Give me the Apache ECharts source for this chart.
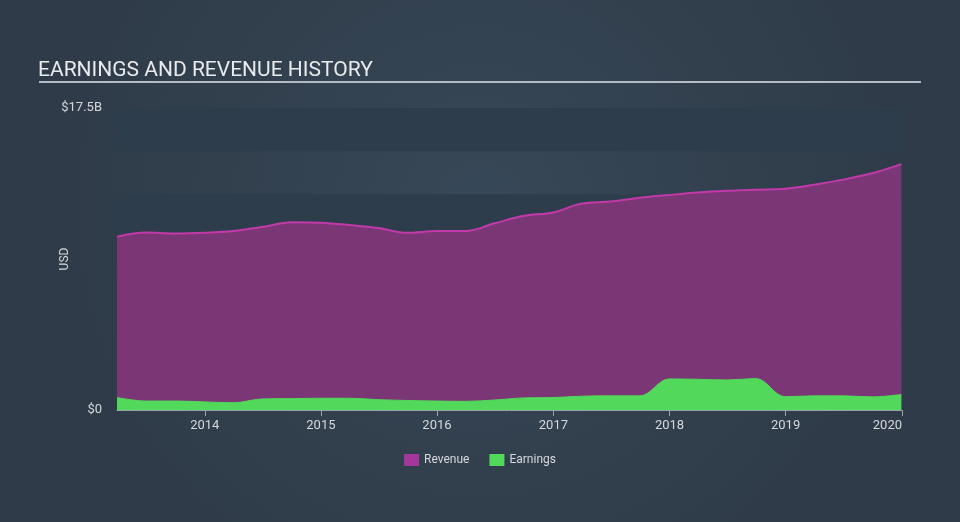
<!DOCTYPE html>
<html>
<head>
<meta charset="utf-8">
<script src="https://cdn.jsdelivr.net/npm/echarts@6/dist/echarts.min.js"></script>
<style>html,body{margin:0;padding:0;}#c{width:960px;height:522px;}</style>
</head>
<body>
<div id="c"></div>
<script>
const dates = ['2013-03-31','2013-06-30','2013-09-30','2013-12-31','2014-03-31','2014-06-30','2014-09-30','2014-12-31',
  '2015-03-31','2015-06-30','2015-09-30','2015-12-31','2016-03-31','2016-06-30','2016-09-30','2016-12-31',
  '2017-03-31','2017-06-30','2017-09-30','2017-12-31','2018-03-31','2018-06-30','2018-09-30','2018-12-31',
  '2019-03-31','2019-06-30','2019-09-30','2019-12-31'];
const revenue = [10.04,10.28,10.23,10.27,10.37,10.6,10.88,10.85,10.72,10.55,10.27,10.37,10.37,10.82,11.25,11.45,
  11.96,12.08,12.3,12.46,12.6,12.7,12.77,12.82,13.05,13.35,13.72,14.25];
const earnings = [0.72,0.52,0.52,0.47,0.42,0.64,0.66,0.68,0.68,0.6,0.55,0.52,0.5,0.58,0.7,0.72,
  0.8,0.82,0.82,1.8,1.78,1.74,1.82,0.77,0.82,0.82,0.76,0.9];
const yTickLabels = {0: '$0', 17.5: '$17.5B'};

const chart = echarts.init(document.getElementById('c'));
const pair = arr => dates.map((d, i) => [d, arr[i]]);
chart.setOption({
  backgroundColor: {type: 'radial', x: 0.5, y: 0.4, r: 0.8,
    colorStops: [{offset: 0, color: '#374858'}, {offset: 1, color: '#2f3b48'}]},
  animation: false,
  textStyle: {fontFamily: 'Roboto'},
  title: {text: 'EARNINGS AND REVENUE HISTORY', left: 33, top: 55,
    textStyle: {color: '#e8eaec', fontSize: 21, fontWeight: 'normal', fontFamily: 'Roboto'}},
  graphic: [{type: 'line', shape: {x1: 39, y1: 82, x2: 921, y2: 82},
    style: {stroke: '#b5bbc2', lineWidth: 2}}],
  legend: {top: 449, left: 'center', itemWidth: 15, itemHeight: 12, itemGap: 20, icon: 'rect',
    textStyle: {color: '#d5d8dc', fontSize: 12},
    data: ['Revenue', 'Earnings']},
  grid: {left: 117, right: 58, top: 108, bottom: 112},
  xAxis: {type: 'time', min: '2013-03-31', max: '2020-01-02',
    minInterval: 365 * 24 * 3600 * 1000, maxInterval: 366 * 24 * 3600 * 1000,
    axisLine: {lineStyle: {color: '#9aa3ac', width: 1}},
    axisTick: {show: true, length: 6, lineStyle: {color: '#9aa3ac'}},
    splitLine: {show: false},
    axisLabel: {color: '#d5d8dc', fontSize: 13, margin: 9, formatter: '{yyyy}', alignMaxLabel: 'right',
      showMinLabel: false, showMaxLabel: true}},
  yAxis: {type: 'value', min: 0, max: 17.5, interval: 2.5,
    name: 'USD', nameLocation: 'middle', nameGap: 46, nameRotate: 90, nameMoveOverlap: false,
    nameTextStyle: {color: '#d5d8dc', fontSize: 12},
    axisLine: {show: false}, axisTick: {show: false}, splitLine: {show: false},
    splitArea: {show: true, areaStyle: {color: ['#2e3d4c', 'rgba(0,0,0,0)']}},
    axisLabel: {color: '#d5d8dc', fontSize: 13, margin: 15,
      formatter: v => yTickLabels[v] !== undefined ? yTickLabels[v] : ''}},
  series: [
    {name: 'Revenue', type: 'line', data: pair(revenue), smooth: 0.35, showSymbol: false,
      itemStyle: {color: '#a3379b'},
      lineStyle: {color: '#c23aaa', width: 2},
      areaStyle: {color: '#7b3775', opacity: 1}},
    {name: 'Earnings', type: 'line', data: pair(earnings), smooth: 0.35, showSymbol: false,
      itemStyle: {color: '#52d85a'},
      lineStyle: {color: '#52d85a', width: 1},
      areaStyle: {color: '#52d85a', opacity: 1}}
  ]
});
</script>
</body>
</html>
